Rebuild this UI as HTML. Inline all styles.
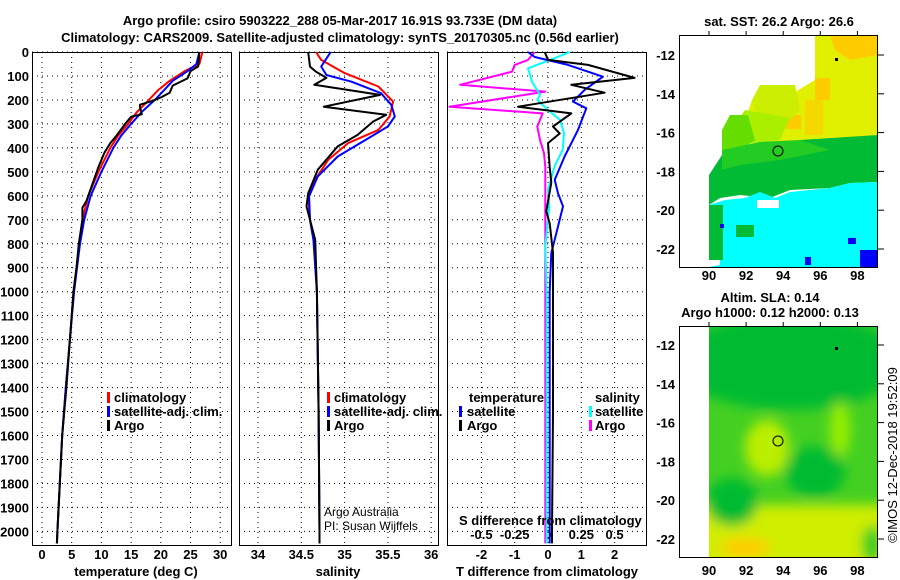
<!DOCTYPE html>
<html><head><meta charset="utf-8"><style>
body{margin:0;background:#fff}
svg{display:block}
text{font-family:"Liberation Sans",sans-serif;font-weight:bold;font-size:13px;fill:#000}
.nb{font-weight:normal;font-size:12px}
</style></head><body>
<svg id="fig" width="900" height="580" viewBox="0 0 900 580" xmlns="http://www.w3.org/2000/svg">
<text x="340" y="25" text-anchor="middle">Argo profile: csiro 5903222_288 05-Mar-2017 16.91S 93.733E (DM data)</text>
<text x="340" y="42" text-anchor="middle">Climatology: CARS2009. Satellite-adjusted climatology: synTS_20170305.nc (0.56d earlier)</text>
<g id="panels"></g>

<g>
<rect x="107" y="392" width="3" height="11" fill="#f00"/><text x="114" y="402">climatology</text>
<rect x="107" y="406" width="3" height="11" fill="#00f"/><text x="114" y="416">satellite-adj. clim.</text>
<rect x="107" y="420" width="3" height="11" fill="#000"/><text x="114" y="430">Argo</text>
</g>
<g>
<rect x="327" y="392" width="3" height="11" fill="#f00"/><text x="334" y="402">climatology</text>
<rect x="327" y="406" width="3" height="11" fill="#00f"/><text x="334" y="416">satellite-adj. clim.</text>
<rect x="327" y="420" width="3" height="11" fill="#000"/><text x="334" y="430">Argo</text>
</g>
<text class="nb" x="324" y="516">Argo Australia</text>
<text class="nb" x="324" y="530">PI: Susan Wijffels</text>
<g>
<text x="469" y="402">temperature</text>
<rect x="459" y="406" width="3" height="11" fill="#00f"/><text x="467" y="416">satellite</text>
<rect x="459" y="420" width="3" height="11" fill="#000"/><text x="467" y="430">Argo</text>
<text x="595" y="402">salinity</text>
<rect x="589" y="406" width="3" height="11" fill="#0ff"/><text x="595" y="416">satellite</text>
<rect x="589" y="420" width="3" height="11" fill="#f0f"/><text x="595" y="430">Argo</text>
</g>
<text x="459" y="525">S difference from climatology</text>
<text x="547" y="576" text-anchor="middle">T difference from climatology</text>
<text x="136" y="576" text-anchor="middle">temperature (deg C)</text>
<text x="338" y="576" text-anchor="middle">salinity</text>

<text x="779" y="26" text-anchor="middle">sat. SST: 26.2 Argo: 26.6</text>
<defs>
<clipPath id="c1"><rect x="709" y="35" width="169" height="233"/></clipPath>
<clipPath id="c2"><rect x="709" y="326" width="169" height="231"/></clipPath>
<filter id="bl"><feGaussianBlur stdDeviation="6"/></filter>
</defs>
<g clip-path="url(#c1)">
<polygon fill="#e0f000" points="815,35 878,35 878,150 760,150 745,120 752,100 790,95 815,80"/>
<polygon fill="#ffcc00" points="830,35 878,35 878,55 850,60 835,50"/>
<rect x="815" y="78" width="15" height="22" fill="#ffcc00"/>
<rect x="786" y="115" width="15" height="14" fill="#ffcc00"/>
<rect x="805" y="100" width="18" height="35" fill="#f5d800"/>
<polygon fill="#ccee00" points="760,85 795,85 800,110 790,120 760,125 752,100"/>
<polygon fill="#aaee00" points="745,110 790,118 780,140 740,145 738,120"/>
<polygon fill="#66dd00" points="730,115 748,115 755,140 740,150 722,150 722,130"/>
<polygon fill="#00bb33" points="709,175 722,155 760,145 800,140 878,135 878,182 850,183 830,188 790,190 770,198 740,195 720,198 709,205"/>
<polygon fill="#22cc22" points="722,150 760,142 800,140 830,150 780,160 740,165 722,170"/>
<polygon fill="#00ffff" points="709,267 878,267 878,182 850,183 830,188 790,192 775,198 760,192 745,198 725,200 709,205 709,230 720,230 720,265"/>
<rect x="709" y="205" width="14" height="55" fill="#00bb33"/>
<rect x="736" y="225" width="18" height="12" fill="#00bb33"/>
<rect x="757" y="200" width="22" height="8" fill="#fff"/>
<rect x="860" y="250" width="18" height="17" fill="#0000ff"/>
<rect x="848" y="238" width="8" height="6" fill="#0000ff"/>
<rect x="805" y="257" width="6" height="8" fill="#0000ff"/>
<rect x="720" y="224" width="4" height="4" fill="#0000ff"/>
</g>
<circle cx="778" cy="151" r="5" fill="none" stroke="#000"/>
<rect x="835" y="58" width="3" height="3" fill="#000"/>
<rect x="679.5" y="35.5" width="198" height="232" fill="none" stroke="#000"/>

<text x="770" y="302" text-anchor="middle">Altim. SLA: 0.14</text>
<text x="770" y="317" text-anchor="middle">Argo h1000: 0.12 h2000: 0.13</text>
<g clip-path="url(#c2)">
<rect x="709" y="326" width="169" height="231" fill="#44d022"/>
<g filter="url(#bl)">
<rect x="690" y="505" width="200" height="80" fill="#d0ee00"/>
<ellipse cx="745" cy="548" rx="25" ry="10" fill="#ffcc00"/>
<ellipse cx="790" cy="362" rx="115" ry="48" fill="#00bb33"/>
<ellipse cx="767" cy="448" rx="22" ry="28" fill="#bbee00"/>
<ellipse cx="840" cy="430" rx="10" ry="28" fill="#99ee00"/>
<ellipse cx="732" cy="502" rx="26" ry="24" fill="#00bb33"/>
<ellipse cx="815" cy="472" rx="30" ry="26" fill="#00bb33"/>
<ellipse cx="872" cy="545" rx="10" ry="20" fill="#22cc22"/>
</g>
</g>
<circle cx="778" cy="441" r="5" fill="none" stroke="#000"/>
<rect x="835" y="347" width="3" height="3" fill="#000"/>
<rect x="679.5" y="326.5" width="198" height="231" fill="none" stroke="#000"/>
<text transform="translate(897,455) rotate(-90)" text-anchor="middle" class="nb" style="font-size:13px">©IMOS 12-Dec-2018 19:52:09</text>
<g id="mapaxes"></g>
</svg>
<script>
const depthTicks=[0,100,200,300,400,500,600,700,800,900,1000,1100,1200,1300,1400,1500,1600,1700,1800,1900,2000];
const tempTicks=[0,5,10,15,20,25,30];
const salTicks=[34,34.5,35,35.5,36];
const salTickLabels=["34","34.5","35","35.5","36"];
const tdiffTicks=[-2,-1,0,1,2];
const sdiffTicks=[-0.5,-0.25,0,0.25,0.5];
const sdiffLabels=["-0.5","-0.25","0","0.25","0.5"];

const climDepth=[0,50,80,120,160,200,250,300,350,400,500,600,700,800,900,1000,1200,1400,1600,1800,2000,2050];
const climT=[27,26.5,24,21.5,19.5,18,16,14.5,12.8,11.5,9.5,7.8,6.8,6.3,5.8,5.3,4.7,4.0,3.4,3.0,2.6,2.5];
const satT=[26.5,26,24.5,22,20.5,19,16.8,15,13.3,12,10,8.2,7.1,6.4,5.9,5.4,4.7,4.0,3.4,3.0,2.6,2.5];
const argoTDepth=[0,60,80,110,140,170,190,205,220,230,260,270,300,350,380,420,480,550,620,650,700,800,900,1000,1200,1400,1600,1800,2000,2050];
const argoT=[26.5,26.3,25,24.5,22,21.5,20,18.5,16.5,16.5,16.8,15,14,12.5,11.5,10.5,9.5,8.5,7.5,6.8,6.8,6.2,5.8,5.3,4.7,4.1,3.4,3.0,2.6,2.5];

const climSDepth=[0,33,88,144,207,269,325,380,450,533,602,700,800,1000,1500,2000,2050];
const climS=[34.67,34.73,35.0,35.39,35.56,35.52,35.39,35.04,34.81,34.66,34.58,34.6,34.65,34.68,34.7,34.71,34.71];
const satSDepth=[0,61,96,124,172,221,269,311,367,436,519,602,700,783,1000,1500,2000,2050];
const satS=[34.84,34.73,34.79,35.08,35.42,35.54,35.58,35.5,35.24,34.92,34.69,34.59,34.6,34.64,34.68,34.7,34.71,34.71];
const argoSDepth=[0,61,82,108,137,179,228,262,290,346,394,491,589,644,783,1000,1500,2000,2050];
const argoS=[34.58,34.6,34.67,34.79,34.65,35.41,34.76,35.48,35.33,35.15,34.92,34.69,34.58,34.56,34.66,34.68,34.7,34.71,34.71];

const argoTdDepth=[0,33,54,108,137,170,228,256,311,340,380,480,545,665,715,838,1030,1500,2000,2050];
const argoTd=[-0.1,0,1.2,2.6,0.7,1.7,-0.9,0.7,0.15,0.35,0,0.05,0.1,-0.05,0.05,0.15,0.15,0.15,0.12,0.12];
const satTdDepth=[0,21,54,103,158,207,235,325,436,533,589,644,783,838,1000,1500,2000,2050];
const satTd=[-0.6,-0.4,0.6,1.65,1.1,0.75,1.15,0.9,0.5,0.2,0.3,0.45,0.2,0.1,0.05,0.05,0.05,0.05];
const satSdDepth=[0,33,68,124,179,200,242,283,338,408,476,575,644,811,1005,1500,2000,2050];
const satSd=[0.165,0.015,-0.15,-0.12,-0.06,-0.08,0,0.09,0.12,0.11,0.05,0,0.01,-0.02,-0.01,-0.01,-0.01,-0.01];
const argoSdDepth=[0,33,54,82,137,165,228,256,311,367,422,478,575,1000,1500,2000,2050];
const argoSd=[-0.1,-0.15,-0.25,-0.27,-0.66,-0.02,-0.74,-0.04,-0.08,-0.06,-0.03,-0.02,-0.02,-0.02,-0.02,-0.02,-0.02];

const lonTicks=[90,92,94,96,98];
const latTicks=[-12,-14,-16,-18,-20,-22];

const NS='http://www.w3.org/2000/svg';
const TOP=52,BOT=545;
function yD(d){return TOP+d*0.2397;}
function xT(t){return 42+t*5.94;}
function xS(s){return 258+(s-34)*86.6;}
function xTd(t){return 548+t*33.3;}
function xSd(s){return 548+s*133.2;}
function mk(tag,attrs,parent){const e=document.createElementNS(NS,tag);for(const k in attrs)e.setAttribute(k,attrs[k]);parent.appendChild(e);return e;}
const P=document.getElementById('panels');
const panels=[[32,231,tempTicks,xT],[239,438,salTicks,xS],[447,646,tdiffTicks,xTd]];
panels.forEach((p,i)=>{
  const g=mk('g',{},P);
  
  
  depthTicks.forEach(d=>{const l=mk('line',{x1:p[0],x2:p[1],y1:yD(d),y2:yD(d),stroke:'#000','stroke-dasharray':'1,4'},g);
    
    });
  p[2].forEach(v=>{const l=mk('line',{x1:p[3](v),x2:p[3](v),y1:TOP,y2:BOT,stroke:'#000','stroke-dasharray':'1,4'},g);
    
    });
  const r=mk('rect',{x:p[0]+0.5,y:TOP+0.5,width:p[1]-p[0],height:BOT-TOP,fill:'none',stroke:'#000'},g);
  
  
});
depthTicks.forEach(d=>{const t=mk('text',{x:29,y:yD(d)+5,'text-anchor':'end'},P);t.textContent=d;
  
  });
tempTicks.forEach(v=>{const t=mk('text',{x:xT(v),y:559,'text-anchor':'middle'},P);t.textContent=v;
  
  });
salTicks.forEach((v,i)=>{const t=mk('text',{x:xS(v),y:559,'text-anchor':'middle'},P);t.textContent=salTickLabels[i];
  
  });
tdiffTicks.forEach(v=>{const t=mk('text',{x:xTd(v),y:559,'text-anchor':'middle'},P);t.textContent=v;
  
  });
sdiffTicks.forEach((v,i)=>{const t=mk('text',{x:xSd(v),y:539,'text-anchor':'middle'},P);t.textContent=sdiffLabels[i];
  
  });

function line(depths,vals,xf,color,name){
  const pts=depths.map((d,i)=>xf(vals[i]).toFixed(1)+','+yD(d).toFixed(1)).join(' ');
  const l=mk('polyline',{points:pts,fill:'none',stroke:color,'stroke-width':2,'stroke-linejoin':'round'},P);
  
  
}
line(climDepth,climT,xT,'#f00','temperature-climatology-line');
line(climDepth,satT,xT,'#00f','temperature-satellite-line');
line(argoTDepth,argoT,xT,'#000','temperature-argo-line');
line(climSDepth,climS,xS,'#f00','salinity-climatology-line');
line(satSDepth,satS,xS,'#00f','salinity-satellite-line');
line(argoSDepth,argoS,xS,'#000','salinity-argo-line');
line(argoSdDepth,argoSd,xSd,'#f0f','sdiff-argo-line');
line(satSdDepth,satSd,xSd,'#0ff','sdiff-satellite-line');
line(satTdDepth,satTd,xTd,'#00f','tdiff-satellite-line');
line(argoTdDepth,argoTd,xTd,'#000','tdiff-argo-line');

const M=document.getElementById('mapaxes');
function mx(l){return 709+(l-90)*18.55;}
[[55,19.4,35,267,280],[345,19.4,326,557,575]].forEach((m,k)=>{
  lonTicks.forEach(l=>{
    mk('line',{x1:mx(l),x2:mx(l),y1:m[2]-4,y2:m[2],stroke:'#000'},M);
    const t=mk('text',{x:mx(l),y:m[4],'text-anchor':'middle'},M);t.textContent=l;
    
    
  });
  latTicks.forEach(la=>{
    const y=m[0]+(-12-la)*m[1];
    mk('line',{x1:878,x2:884,y1:y,y2:y,stroke:'#000'},M);
    const t=mk('text',{x:675,y:y+5,'text-anchor':'end'},M);t.textContent=la;
    
    
  });
});
</script>
</body></html>
